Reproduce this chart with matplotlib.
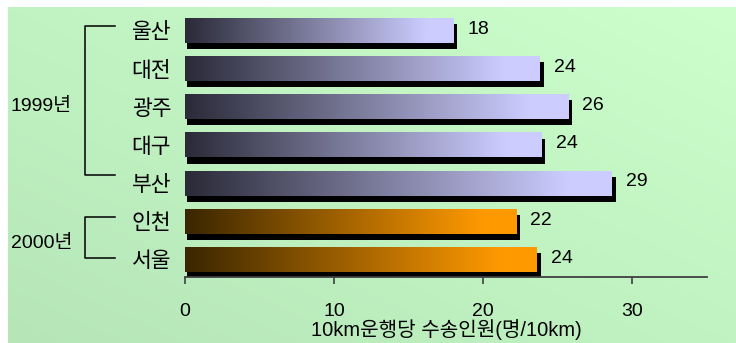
import numpy as np
import matplotlib
matplotlib.use("Agg")
import matplotlib.pyplot as plt
from matplotlib.patches import Rectangle
from matplotlib.colors import to_rgb
import matplotlib.transforms as mtransforms

plt.rcParams['font.family'] = ['Liberation Sans', 'Noto Sans CJK KR', 'DejaVu Sans']

# ---- data ----
cities = ['울산', '대전', '광주', '대구', '부산', '인천', '서울']
values = [18.0, 23.8, 25.7, 23.9, 28.6, 22.2, 23.6]
value_labels = ['18', '24', '26', '24', '29', '22', '24']
groups = ['1999', '1999', '1999', '1999', '1999', '2000', '2000']
group_labels = ['1999년', '2000년']
xticks = [0, 10, 20, 30]
xlabel = '10km운행당 수송인원(명/10km)'

W, H = 736, 343
fig = plt.figure(figsize=(W / 100, H / 100), dpi=100)
fig.patch.set_facecolor('white')

# background gradient panel
bg = fig.add_axes([8 / W, 0, 1 - 8 / W, 1 - 7 / H], zorder=0)
gx = np.linspace(0, 1, 200)
gy = np.linspace(0, 1, 100)
GX, GY = np.meshgrid(gx, gy)
t = np.clip((GX * 0.5 + (1 - GY) * 0.5), 0, 1)  # 0 bottom-left .. 1 top-right
c0 = np.array(to_rgb('#b6e6b8'))
c1 = np.array(to_rgb('#ccffcc'))
img = c0[None, None, :] * (1 - t[..., None]) + c1[None, None, :] * t[..., None]
bg.imshow(img, extent=(0, 1, 0, 1), origin='upper', aspect='auto')
bg.axis('off')

# main axes
x0, x1 = 185, 707
ax = fig.add_axes([x0 / W, 1 - 277 / H, (x1 - x0) / W, (277 - 7.6) / H], zorder=1)
ax.patch.set_alpha(0)

grad_cols = {'1999': ('#2a2a38', '#ccccff'), '2000': ('#3a2600', '#ff9900')}
bh = 0.655
sx, sy = 0.27, 0.16  # shadow offset (data units)
n = 200
for i, (v, g) in enumerate(zip(values, groups)):
    ax.add_patch(Rectangle((sx * 0.6, i - bh / 2 + sy), v + sx - sx * 0.6, bh,
                           facecolor='black', edgecolor='none', zorder=2))
    a, b = np.array(to_rgb(grad_cols[g][0])), np.array(to_rgb(grad_cols[g][1]))
    tt = np.clip(np.linspace(0, 1, n) / 0.9, 0, 1)
    row = a[None, :] * (1 - tt[:, None]) + b[None, :] * tt[:, None]
    ax.imshow(row[None, :, :], extent=(0, v, i + bh / 2, i - bh / 2),
              aspect='auto', zorder=3, interpolation='bilinear')
    ax.text(v + 0.95, i - 0.03, value_labels[i], va='center', ha='left',
            fontsize=14, color='black', zorder=4)

ax.set_xlim(0, 35)
ax.set_ylim(6.46, -0.6)
ax.set_aspect('auto')

ax.set_yticks(range(len(cities)))
ax.set_yticklabels(cities, fontsize=15.5)
ax.tick_params(axis='y', length=0, pad=10)
ax.set_xticks(xticks)
ax.set_xticklabels([str(x) for x in xticks], fontsize=14)
ax.tick_params(axis='x', direction='out', length=5, width=1.2, color='#404040', pad=14)
for s in ['top', 'right', 'left']:
    ax.spines[s].set_visible(False)
ax.spines['bottom'].set_color('#404040')
ax.spines['bottom'].set_linewidth(1.3)
ax.set_xlabel(xlabel, fontsize=14.5, labelpad=-1)

# group brackets
tr = mtransforms.blended_transform_factory(ax.transAxes, ax.transData)
bx, bx2 = (85 - x0) / (x1 - x0), (115 - x0) / (x1 - x0)
brackets = [(0 - 0.12, 4 - 0.2), (5 - 0.1, 6 - 0.04)]
for (ya, yb), lab in zip(brackets, group_labels):
    ax.plot([bx2, bx, bx, bx2], [ya, ya, yb, yb], color='black', lw=1.1,
            transform=tr, clip_on=False)
    ax.text((72 - x0) / (x1 - x0), (ya + yb) / 2 + 0.15, lab, transform=tr,
            ha='right', va='center', fontsize=14)

fig.savefig('out.png', dpi=100)
